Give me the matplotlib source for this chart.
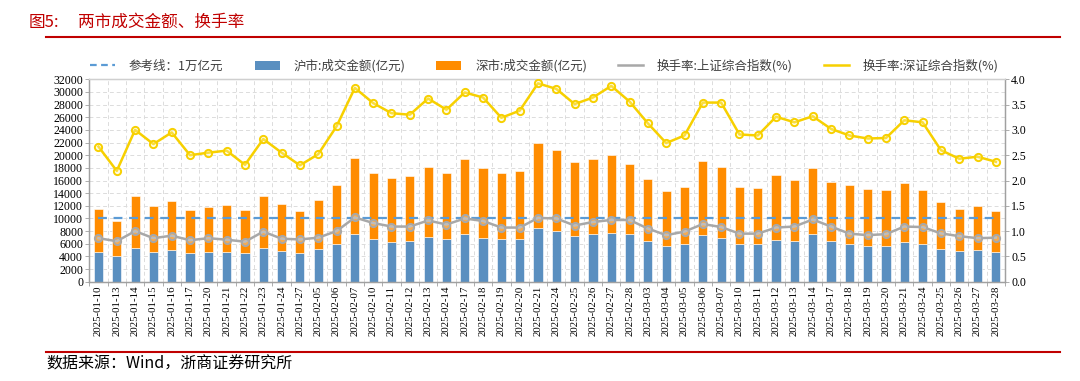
import numpy as np
import matplotlib
matplotlib.use("Agg")
import matplotlib.pyplot as plt
from matplotlib.lines import Line2D
from matplotlib.patches import Patch

dates = ["2025-01-10", "2025-01-13", "2025-01-14", "2025-01-15", "2025-01-16", "2025-01-17",
         "2025-01-20", "2025-01-21", "2025-01-22", "2025-01-23", "2025-01-24", "2025-01-27",
         "2025-02-05", "2025-02-06", "2025-02-07", "2025-02-10", "2025-02-11", "2025-02-12",
         "2025-02-13", "2025-02-14", "2025-02-17", "2025-02-18", "2025-02-19", "2025-02-20",
         "2025-02-21", "2025-02-24", "2025-02-25", "2025-02-26", "2025-02-27", "2025-02-28",
         "2025-03-03", "2025-03-04", "2025-03-05", "2025-03-06", "2025-03-07", "2025-03-10",
         "2025-03-11", "2025-03-12", "2025-03-13", "2025-03-14", "2025-03-17", "2025-03-18",
         "2025-03-19", "2025-03-20", "2025-03-21", "2025-03-24", "2025-03-25", "2025-03-26",
         "2025-03-27", "2025-03-28"]

sh_amount = [4650, 4100, 5370, 4680, 5000, 4520, 4680, 4680, 4470, 5370, 4790, 4470,
             5150, 5890, 7570, 6730, 6340, 6480, 7010, 6690, 7480, 6960, 6750, 6690,
             8540, 8010, 7270, 7480, 7750, 7540, 6430, 5690, 5900, 7380, 6960, 6010,
             5960, 6590, 6380, 7480, 6380, 5900, 5640, 5690, 6220, 5900, 5160, 4850,
             4950, 4690]

sz_amount = [6820, 5530, 8150, 7210, 7730, 6790, 7100, 7370, 6840, 8200, 7470, 6630,
             7740, 9470, 12030, 10520, 9980, 10280, 11170, 10440, 11860, 10960, 10430, 10860,
             13330, 12810, 11700, 11860, 12280, 11120, 9800, 8640, 9010, 11700, 11220, 9010,
             8850, 10330, 9690, 10440, 9380, 9330, 9010, 8750, 9330, 8590, 7440, 6690,
             6960, 6540]

turnover_sh = [0.86, 0.80, 1.00, 0.86, 0.91, 0.82, 0.86, 0.83, 0.79, 0.99, 0.85, 0.835,
               0.87, 1.00, 1.27, 1.16, 1.09, 1.09, 1.21, 1.13, 1.25, 1.20, 1.07, 1.07,
               1.26, 1.25, 1.11, 1.18, 1.22, 1.22, 1.05, 0.92, 0.99, 1.14, 1.08, 0.95,
               0.95, 1.07, 1.09, 1.23, 1.09, 0.95, 0.92, 0.94, 1.09, 1.08, 0.955, 0.90,
               0.86, 0.87]

turnover_sz = [2.67, 2.19, 3.00, 2.72, 2.95, 2.50, 2.55, 2.59, 2.31, 2.82, 2.55, 2.30,
               2.52, 3.07, 3.83, 3.53, 3.33, 3.30, 3.62, 3.40, 3.74, 3.64, 3.24, 3.38,
               3.92, 3.81, 3.51, 3.64, 3.87, 3.56, 3.13, 2.74, 2.89, 3.54, 3.54, 2.91,
               2.89, 3.26, 3.15, 3.27, 3.02, 2.89, 2.83, 2.84, 3.19, 3.15, 2.60, 2.43,
               2.47, 2.37]

ref_level = 10000

legend_labels = ["参考线：1万亿元", "沪市:成交金额(亿元)", "深市:成交金额(亿元)",
                 "换手率:上证综合指数(%)", "换手率:深证综合指数(%)"]

C_BLUE = "#5a8fc0"
C_ORANGE = "#ff8c00"
C_GRAY = "#a8a8a8"
C_YELLOW = "#f7d000"
C_REF = "#5b9bd5"
C_RED = "#c00000"
SPINE = "#a0a0a0"

CJK = ["Noto Sans CJK SC", "DejaVu Sans"]
SERIF = "Liberation Serif"

W, H = 1080, 381
fig = plt.figure(figsize=(W / 100, H / 100), dpi=100)

L, R, T, B = 89.3, 1005, 79.3, 281.7
ax = fig.add_axes([L / W, 1 - B / H, (R - L) / W, (B - T) / H])
ax2 = ax.twinx()

x = np.arange(len(dates))
ax.bar(x, sh_amount, width=0.5, color=C_BLUE, edgecolor="white", linewidth=0.4, zorder=2)
ax.bar(x, sz_amount, width=0.5, bottom=sh_amount, color=C_ORANGE, edgecolor="white",
       linewidth=0.4, zorder=2)
ax.plot(x, [ref_level] * len(dates), color=C_REF, lw=1.6, ls=(0, (4, 3)), zorder=3)

ax2.plot(x, turnover_sh, color=C_GRAY, lw=1.8, marker="o", ms=5.2, mec=C_GRAY, mew=1.4,
         mfc=(0.9, 0.9, 0.9, 0.35), zorder=4)
ax2.plot(x, turnover_sz, color=C_YELLOW, lw=1.8, marker="o", ms=5.2, mec=C_YELLOW, mew=1.4,
         mfc=(1.0, 0.97, 0.7, 0.35), zorder=4)

ax.set_xlim(-0.5, len(dates) - 0.5)
ax.set_ylim(0, 32000)
ax2.set_ylim(0, 4.0)
ax.set_yticks(np.arange(0, 32001, 2000))
ax2.set_yticks(np.arange(0, 4.01, 0.5))
ax2.set_yticklabels([f"{v:.1f}" for v in np.arange(0, 4.01, 0.5)])

ax.set_xticks(x)
ax.set_xticklabels(dates, rotation=90, fontfamily=SERIF, fontsize=7.8)
ax.set_xticks(np.arange(-0.5, len(dates), 1.0), minor=True)
ax.tick_params(axis="x", which="major", length=0, pad=3)
ax.tick_params(axis="x", which="minor", length=3, color=SPINE, width=0.6)
ax.tick_params(axis="y", length=3, color=SPINE, width=0.6, pad=1.5)
ax2.tick_params(axis="y", length=3, color=SPINE, width=0.6, pad=1.5)
for lab in ax.get_yticklabels() + ax2.get_yticklabels():
    lab.set_fontfamily(SERIF)
    lab.set_fontsize(8.6)

ax.grid(True, axis="y", which="major", color="#dcdcdc", lw=0.7, ls=(0, (4, 3)), zorder=0)
ax.grid(True, axis="x", which="minor", color="#dcdcdc", lw=0.7, ls=(0, (4, 3)), zorder=0)
ax.set_axisbelow(True)

for a in (ax, ax2):
    for s in a.spines.values():
        s.set_color(SPINE)
        s.set_linewidth(0.9)
    a.spines["top"].set_color("#cfcfcf")

handles = [
    Line2D([0], [0], color=C_REF, lw=1.6, ls=(0, (3, 2))),
    Patch(facecolor=C_BLUE, edgecolor="none"),
    Patch(facecolor=C_ORANGE, edgecolor="none"),
    Line2D([0], [0], color=C_GRAY, lw=1.8),
    Line2D([0], [0], color=C_YELLOW, lw=1.8),
]
leg = fig.legend(handles, legend_labels, ncol=5, loc="center left",
                 bbox_to_anchor=(90 / W, 1 - 66 / H), frameon=False,
                 prop={"family": CJK, "size": 9}, handlelength=2.0, handleheight=0.75,
                 handletextpad=1.1, columnspacing=2.5, borderpad=0, borderaxespad=0)
for t in leg.get_texts():
    t.set_color("#404040")

fig.text(29 / W, 1 - 22.5 / H, "图5:", color=C_RED, fontsize=12, family=CJK,
         va="center", ha="left")
fig.text(78 / W, 1 - 22.5 / H, "两市成交金额、换手率", color=C_RED, fontsize=12,
         family=CJK, va="center", ha="left")
fig.add_artist(Line2D([46 / W, 1060 / W], [1 - 36.7 / H] * 2, color=C_RED, lw=1.5))
fig.add_artist(Line2D([46 / W, 1060 / W], [1 - 351.7 / H] * 2, color=C_RED, lw=1.5))
fig.text(46 / W, 1 - 364 / H, "数据来源：Wind，浙商证券研究所", color="black",
         fontsize=11.5, family=CJK, va="center", ha="left")

fig.savefig("out.png", dpi=100)
